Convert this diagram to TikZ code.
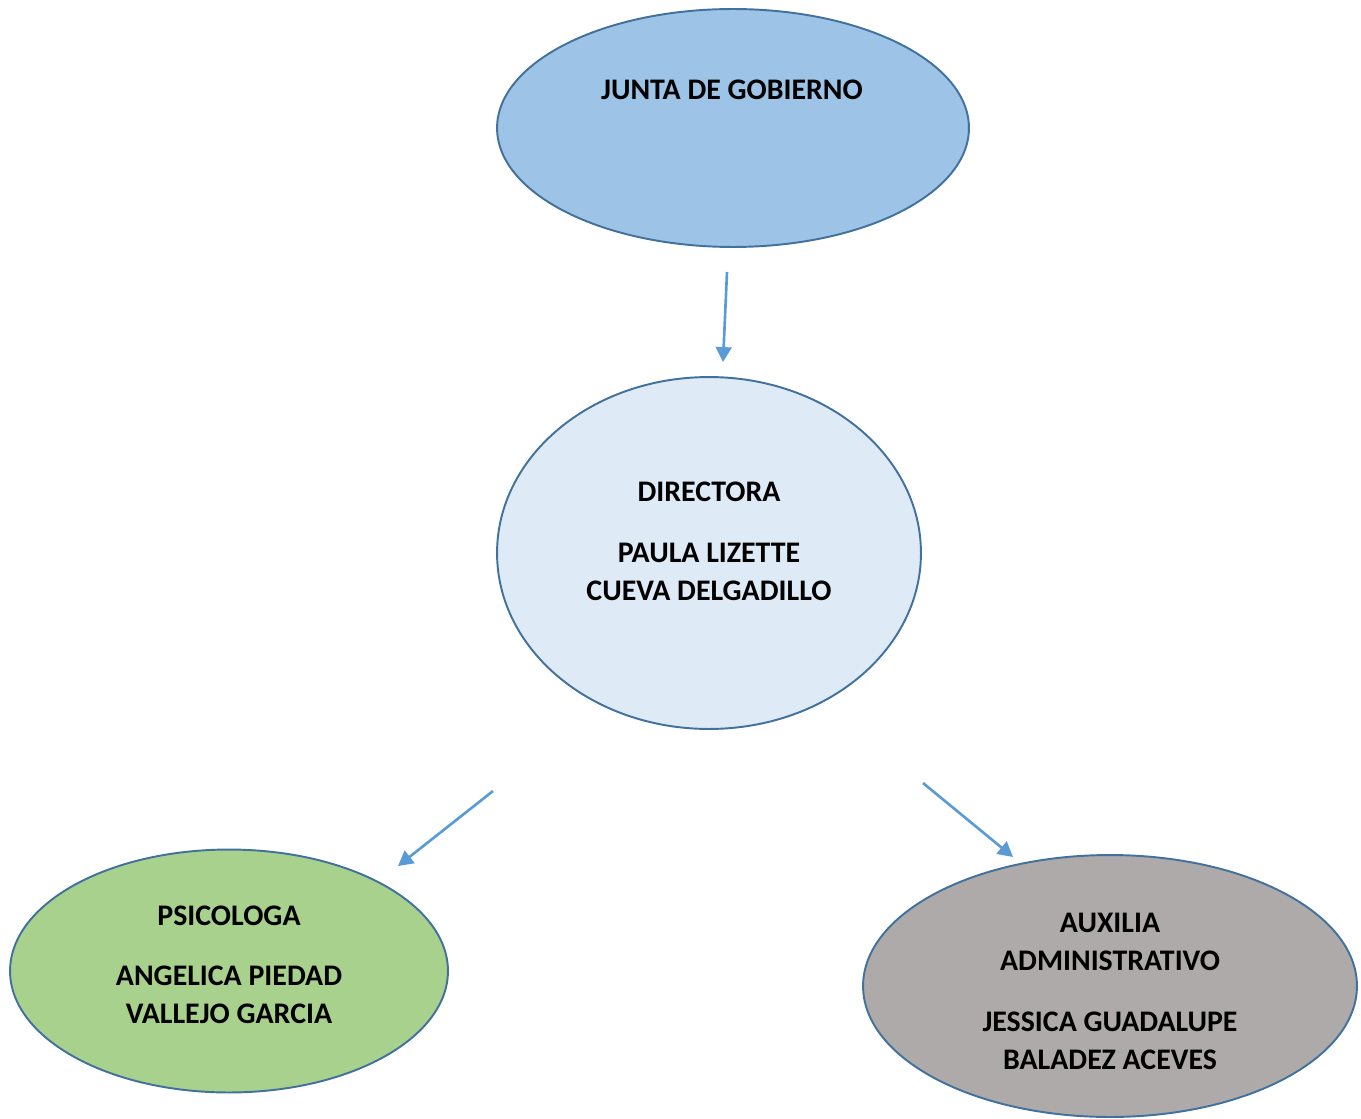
\documentclass[tikz,border=0pt]{standalone}
\usepackage{fontspec}
\setmainfont{Carlito}
\usepackage{xcolor}
\usepackage{tikz}
\usetikzlibrary{arrows.meta,shapes.geometric}
\definecolor{rim}{HTML}{41719C}
\definecolor{junta}{HTML}{9DC3E6}
\definecolor{direc}{HTML}{DEEBF7}
\definecolor{psico}{HTML}{A9D18E}
\definecolor{auxil}{HTML}{AEAAAA}
\definecolor{link}{HTML}{5B9BD5}
\tikzset{blob/.style={ellipse,draw=rim,line width=1.1pt,inner sep=0pt},
  lbl/.style={font=\fontsize{17}{21.5}\selectfont\bfseries,align=center,inner sep=0pt},
  link/.style={draw=link,line width=1.5pt,-{Triangle[length=8.5pt,width=9pt]}}}

\begin{document}
\begin{tikzpicture}[x=0.02cm,y=-0.02cm]
  \useasboundingbox (0,0) rectangle (1361,1118);
  % the four boxes
  \node[blob,fill=junta,minimum width=9.44cm,minimum height=4.76cm] (gob) at (733,128) {};
  \node[blob,fill=direc,minimum width=8.48cm,minimum height=7.04cm] (dir) at (709,553) {};
  \node[blob,fill=psico,minimum width=8.76cm,minimum height=4.86cm] (psi) at (229,971) {};
  \node[blob,fill=auxil,minimum width=9.88cm,minimum height=5.24cm] (aux) at (1110,986) {};
  % texts
  \node[lbl] (gobtxt) at (732,90) {JUNTA DE GOBIERNO};
  \node[lbl] (dirrole) at (709,492) {DIRECTORA};
  \node[lbl] (dirname) at (709,572) {PAULA LIZETTE\\CUEVA DELGADILLO};
  \node[lbl] (psirole) at (229,916) {PSICOLOGA};
  \node[lbl] (psiname) at (229,995) {ANGELICA PIEDAD\\VALLEJO GARCIA};
  \node[lbl] (auxrole) at (1110,942) {AUXILIA\\ADMINISTRATIVO};
  \node[lbl] (auxname) at (1110,1041) {JESSICA GUADALUPE\\BALADEZ ACEVES};
  % arrows
  \coordinate (gobout) at (727,272);
  \coordinate (dirin) at (723,362);
  \coordinate (dirleft) at (493,791);
  \coordinate (psiin) at (398,866);
  \coordinate (dirright) at (923,783);
  \coordinate (auxin) at (1013,857);
  \draw[link] (gobout) -- (dirin);
  \draw[link] (dirleft) -- (psiin);
  \draw[link] (dirright) -- (auxin);
\end{tikzpicture}
\end{document}
